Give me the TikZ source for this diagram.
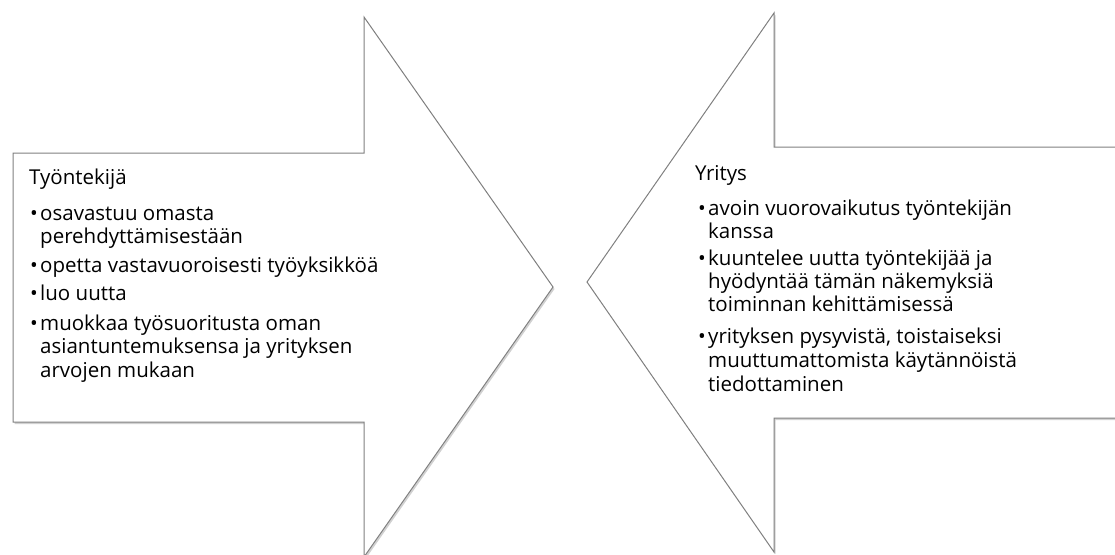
\documentclass[tikz,border=0pt]{standalone}
\usepackage{fontspec}
\setmainfont{Open Sans}
\usetikzlibrary{shadows}
\newcommand{\txtsize}{\fontsize{20.5}{23}\selectfont}
\tikzset{
  arrowshape/.style={draw=black!50, line width=1pt, fill=white, line join=miter,
    drop shadow={shadow xshift=1.5pt, shadow yshift=-2pt, opacity=0.3, fill=black!60}},
  txt/.style={anchor=base west, inner sep=0pt, font=\txtsize, text=black},
}
\begin{document}
\begin{tikzpicture}[x=1pt,y=-1pt]
\useasboundingbox (0,0) rectangle (1115,554);
% left arrow (pointing right)
\draw[arrowshape] (13,153) -- (364,153) -- (364,17) -- (553,287) -- (364,557) -- (364,422) -- (13,422) -- cycle;
% right arrow (pointing left)
\draw[arrowshape] (1130,147) -- (774,147) -- (774,13) -- (587,282) -- (774,552) -- (774,418) -- (1130,418) -- cycle;

% left text
\node[txt] (lt) at (29,184) {Työntekijä};
\node[txt] (lb1) at (30,220) {•};
\node[txt] (l1a) at (40,220) {osavastuu omasta};
\node[txt] (l1b) at (40,243) {perehdyttämisestään};
\node[txt] (lb2) at (30,272) {•};
\node[txt] (l2a) at (40,272) {opetta vastavuoroisesti työyksikköä};
\node[txt] (lb3) at (30,300) {•};
\node[txt] (l3a) at (40,300) {luo uutta};
\node[txt] (lb4) at (30,330) {•};
\node[txt] (l4a) at (40,330) {muokkaa työsuoritusta oman};
\node[txt] (l4b) at (40,353) {asiantuntemuksensa ja yrityksen};
\node[txt] (l4c) at (40,377) {arvojen mukaan};

% right text
\node[txt] (rt) at (695,180) {Yritys};
\node[txt] (rb1) at (698,215) {•};
\node[txt] (r1a) at (708,215) {avoin vuorovaikutus työntekijän};
\node[txt] (r1b) at (708,238) {kanssa};
\node[txt] (rb2) at (698,265) {•};
\node[txt] (r2a) at (708,265) {kuuntelee uutta työntekijää ja};
\node[txt] (r2b) at (708,288) {hyödyntää tämän näkemyksiä};
\node[txt] (r2c) at (708,311) {toiminnan kehittämisessä};
\node[txt] (rb3) at (698,343) {•};
\node[txt] (r3a) at (708,343) {yrityksen pysyvistä, toistaiseksi};
\node[txt] (r3b) at (708,367) {muuttumattomista käytännöistä};
\node[txt] (r3c) at (708,391) {tiedottaminen};
\end{tikzpicture}
\end{document}
